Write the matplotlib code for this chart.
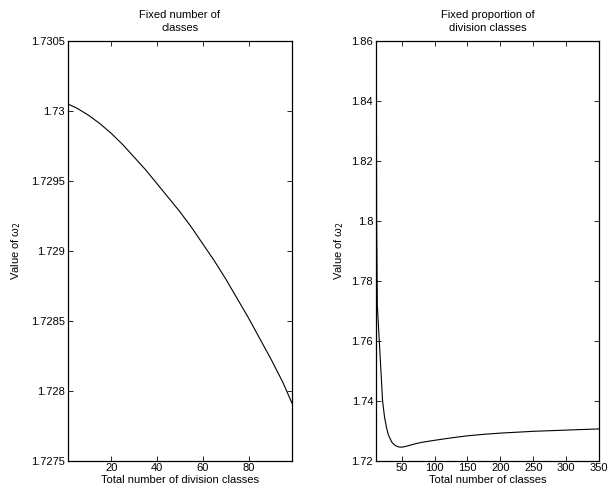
#!/usr/bin/env python3
# -*- coding: utf-8 -*-
"""
Two panels: value of omega_2 against the number of classes.
"""

import matplotlib
matplotlib.use("Agg")
import matplotlib.pyplot as plt
from matplotlib.ticker import FuncFormatter

plt.rcParams['font.family'] = ['Liberation Sans', 'DejaVu Sans']
plt.rcParams['font.size'] = 8

# Left panel: fixed number of classes
div_classes = [1, 5, 10, 15, 20, 25, 30, 35, 40, 45, 50, 55, 60, 65, 70, 75,
               80, 85, 90, 95, 99]
omega_fixed_number = [1.73005, 1.73002, 1.72997, 1.72991, 1.72984, 1.72976,
                      1.72967, 1.72958, 1.72948, 1.72938, 1.72928, 1.72917,
                      1.72905, 1.72893, 1.72880, 1.72866, 1.72852, 1.72837,
                      1.72822, 1.72806, 1.72791]

# Right panel: fixed proportion of division classes
total_classes = [11, 12, 13, 14, 16, 18, 21, 24, 27, 30, 35, 40, 45, 50, 55,
                 60, 70, 80, 100, 125, 150, 175, 200, 250, 300, 350]
omega_fixed_prop = [1.90, 1.80, 1.772, 1.768, 1.760, 1.752, 1.740, 1.7345,
                    1.731, 1.7285, 1.7262, 1.7251, 1.7246, 1.7245, 1.7247,
                    1.7250, 1.7256, 1.7261, 1.7268, 1.7276, 1.7283, 1.7288,
                    1.7292, 1.7298, 1.7302, 1.7306]

left_yticks = [1.7275, 1.728, 1.7285, 1.729, 1.7295, 1.73, 1.7305]
left_xticks = [20, 40, 60, 80]
right_yticks = [1.72, 1.74, 1.76, 1.78, 1.8, 1.82, 1.84, 1.86]
right_xticks = [50, 100, 150, 200, 250, 300, 350]

ylabel = 'Value of ω$_2$'


def _style_axes(ax):
    """MATLAB-like boxed axes with inward ticks."""
    ax.tick_params(direction='in', top=True, right=True, length=3.5,
                   width=0.6, pad=2, labelsize=8)
    for spine in ax.spines.values():
        spine.set_linewidth(0.9)
    ax.yaxis.set_major_formatter(FuncFormatter(lambda v, p: f"{v:g}"))


fig = plt.figure(figsize=(6.08, 4.95), dpi=100)
ax1 = fig.add_axes([0.1113, 0.0693, 0.369, 0.848])
ax2 = fig.add_axes([0.6184, 0.0693, 0.3668, 0.848])

ax1.plot(div_classes, omega_fixed_number, color='black', lw=0.8)
ax1.set_xlim(1, 99)
ax1.set_ylim(1.7275, 1.7305)
ax1.set_xticks(left_xticks)
ax1.set_yticks(left_yticks)
ax1.set_title('Fixed number of\nclasses', fontsize=8, pad=7,
              linespacing=1.45)
ax1.set_xlabel('Total number of division classes', labelpad=1)
ax1.set_ylabel(ylabel, labelpad=6)
_style_axes(ax1)

ax2.plot(total_classes, omega_fixed_prop, color='black', lw=0.8)
ax2.set_xlim(11, 350)
ax2.set_ylim(1.72, 1.86)
ax2.set_xticks(right_xticks)
ax2.set_yticks(right_yticks)
ax2.set_title('Fixed proportion of\ndivision classes', fontsize=8, pad=7,
              linespacing=1.45)
ax2.set_xlabel('Total number of classes', labelpad=1)
ax2.set_ylabel(ylabel, labelpad=4)
_style_axes(ax2)

fig.savefig('out.png', dpi=100)
